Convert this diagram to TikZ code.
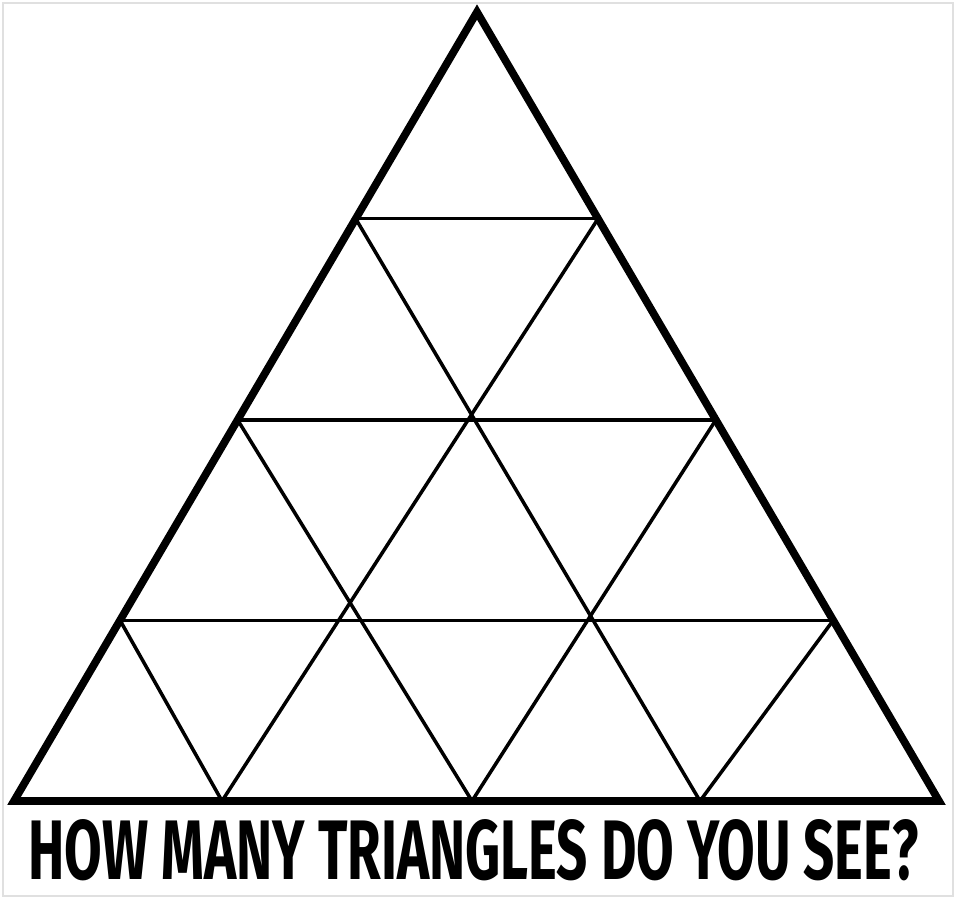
\documentclass[tikz,border=0pt]{standalone}
\usepackage{fontspec}
\setmainfont{Fira Sans}
\usepackage{tikz}
\usetikzlibrary{calc}

\begin{document}
\begin{tikzpicture}[x=0.02cm, y=-0.02cm, outline/.style={line width=4.4pt, line join=miter}, grid/.style={line width=2pt}, frame/.style={draw=black!12, line width=0.6pt}]
    % Frame
    \useasboundingbox (0,0) rectangle (956,899);
    \draw[frame] (3,3) rectangle (953,896);

    % Outline
    \coordinate (apex) at (477,12);
    \coordinate (bl) at (14,801);
    \coordinate (br) at (939,801);
    \draw[outline] (apex) -- (bl) -- (br) -- cycle;

    % Points on the sides
    \coordinate (l1) at ($(apex)!0.262!(bl)$);
    \coordinate (l2) at ($(apex)!0.517!(bl)$);
    \coordinate (l3) at ($(apex)!0.771!(bl)$);
    \coordinate (r1) at ($(apex)!0.262!(br)$);
    \coordinate (r2) at ($(apex)!0.517!(br)$);
    \coordinate (r3) at ($(apex)!0.771!(br)$);

    % Points on the base
    \coordinate (b1) at (222,801);
    \coordinate (b2) at (472,801);
    \coordinate (b3) at (700,801);

    % Rows
    \draw[grid] (l1) -- (r1);
    \draw[grid] (l2) -- (r2);
    \draw[grid] (l3) -- (r3);

    % Slanted lines
    \draw[grid] (l1) -- (b3);
    \draw[grid] (r1) -- (b1);
    \draw[grid] (l2) -- (b2);
    \draw[grid] (r2) -- (b2);
    \draw[grid] (l3) -- (b1);
    \draw[grid] (r3) -- (b3);

    % Question
    \node[inner sep=0pt] (question) at (473.5,850) {\resizebox{17.8cm}{1.2cm}{\bfseries HOW MANY TRIANGLES DO YOU SEE?}};
\end{tikzpicture}
\end{document}
